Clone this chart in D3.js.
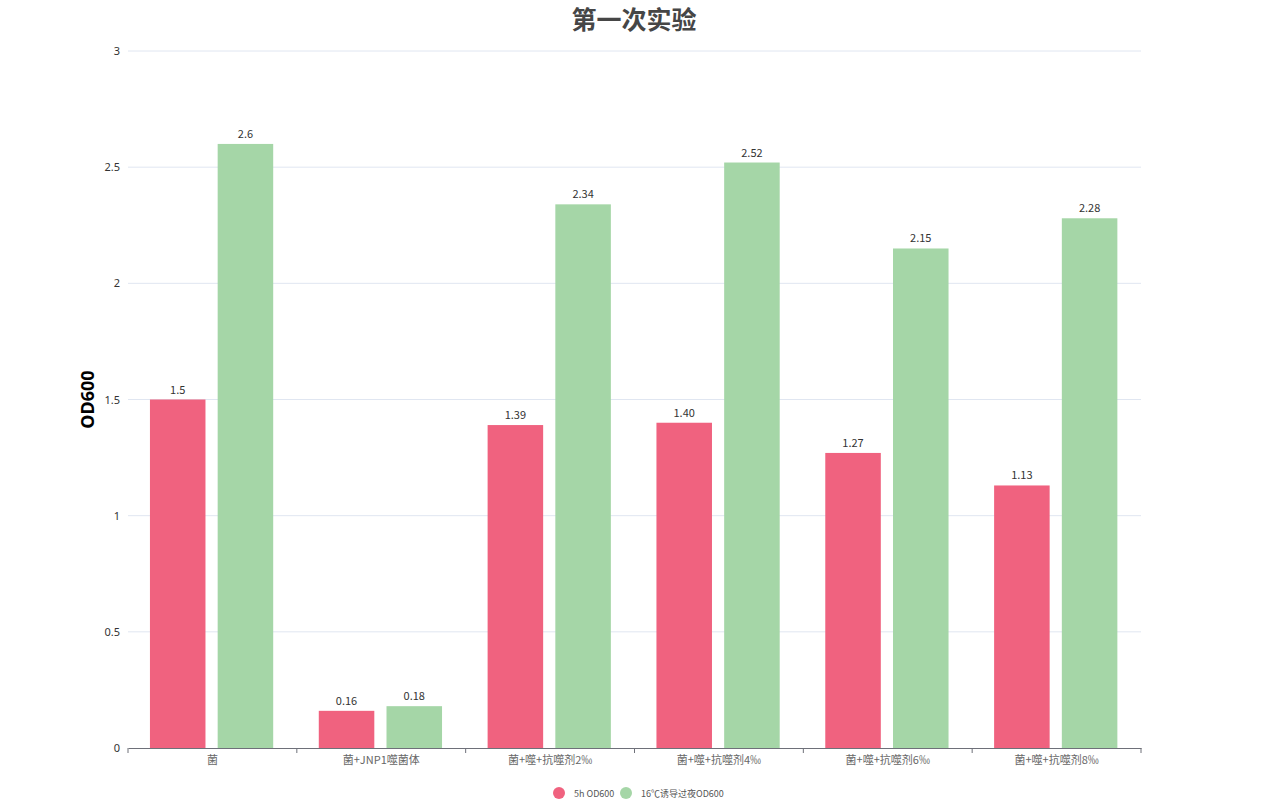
<!DOCTYPE html>
<html>
<head>
<meta charset="utf-8">
<script src="https://cdn.jsdelivr.net/npm/d3@7"></script>
<style>
  body { margin: 0; background: #fff; font-family: "Noto Sans CJK SC", "Noto Sans", sans-serif; }
</style>
</head>
<body>
<div id="chart"></div>
<script>
const categories = ['菌', '菌+JNP1噬菌体', '菌+噬+抗噬剂2‰', '菌+噬+抗噬剂4‰', '菌+噬+抗噬剂6‰', '菌+噬+抗噬剂8‰'];
const seriesNames = ['5h OD600', '16℃诱导过夜OD600'];
const values5h = [1.5, 0.16, 1.39, 1.40, 1.27, 1.13];
const valuesNight = [2.6, 0.18, 2.34, 2.52, 2.15, 2.28];
const labels5h = ['1.5', '0.16', '1.39', '1.40', '1.27', '1.13'];
const labelsNight = ['2.6', '0.18', '2.34', '2.52', '2.15', '2.28'];
const yTicks = [0, 0.5, 1, 1.5, 2, 2.5, 3];
const colors = ['#f0627f', '#a5d6a7'];

const width = 1268, height = 809;
const margin = { top: 51, left: 128, right: 127, bottom: 61 };

const svg = d3.select('#chart').append('svg')
    .attr('width', width)
    .attr('height', height);

const g = svg.append('g').attr('transform', 'translate(' + margin.left + ',' + margin.top + ')');
const w = width - margin.left - margin.right;
const h = height - margin.top - margin.bottom;

// scales
let x = d3.scaleBand().domain(categories).range([0, w]);
let x1 = d3.scaleBand().domain(seriesNames)
    .range([x.bandwidth() * 0.13, x.bandwidth() * 0.86]).paddingInner(0.18);
let y = d3.scaleLinear().domain([0, 3]).range([h, 0]);

// grid
g.append('g').selectAll('line')
    .data(yTicks.filter(d => d > 0))
    .enter().append('line')
        .attr('x1', 0).attr('x2', w)
        .attr('y1', d => y(d)).attr('y2', d => y(d))
        .attr('stroke', '#e0e6f1');

// y axis labels
let yAxis = d3.axisLeft(y).tickValues(yTicks).tickSize(0).tickPadding(8).tickFormat(d => d);
let yg = g.append('g').call(yAxis);
yg.select('.domain').remove();
yg.selectAll('text').attr('fill', '#333').style('font-size', '11px').style('font-family', 'Noto Sans, sans-serif');

// bars
const series = [values5h, valuesNight];
const labels = [labels5h, labelsNight];
series.forEach(function(vals, s) {
    g.selectAll('rect.s' + s)
        .data(vals)
        .enter().append('rect')
            .attr('class', 's' + s)
            .attr('x', (d, i) => x(categories[i]) + x1(seriesNames[s]))
            .attr('y', d => y(d))
            .attr('width', x1.bandwidth())
            .attr('height', d => h - y(d))
            .attr('fill', colors[s]);
    g.selectAll('text.l' + s)
        .data(vals)
        .enter().append('text')
            .attr('class', 'l' + s)
            .attr('x', (d, i) => x(categories[i]) + x1(seriesNames[s]) + x1.bandwidth() / 2)
            .attr('y', d => y(d) - 6)
            .attr('text-anchor', 'middle')
            .attr('fill', '#333')
            .style('font-size', '11px')
            .text((d, i) => labels[s][i]);
});

// x axis
let xAxis = d3.axisBottom(x).tickSize(0).tickPadding(8);
let xg = g.append('g').attr('transform', 'translate(0,' + h + ')').call(xAxis);
xg.select('.domain').attr('stroke', '#6e7079');
xg.selectAll('text').attr('fill', '#666').style('font-size', '11px').style('font-family', 'Noto Sans CJK SC, sans-serif');
xg.selectAll('line.sep')
    .data(d3.range(categories.length + 1))
    .enter().append('line')
        .attr('class', 'sep')
        .attr('x1', i => i * x.step()).attr('x2', i => i * x.step())
        .attr('y1', 0).attr('y2', 5)
        .attr('stroke', '#6e7079');

// title
svg.append('text')
    .attr('x', 634).attr('y', 29)
    .attr('text-anchor', 'middle')
    .attr('fill', '#464646')
    .style('font-size', '25px')
    .style('font-weight', 'bold')
    .text('第一次实验');

// y title
svg.append('text')
    .attr('transform', 'translate(94,' + (margin.top + h * 0.5) + ') rotate(-90)')
    .attr('text-anchor', 'middle')
    .attr('fill', '#000')
    .style('font-size', '18px')
    .style('font-weight', 'bold')
    .style('font-family', 'Noto Sans, sans-serif')
    .text('OD600');

// legend
const legendX = [559, 626];
seriesNames.forEach(function(name, s) {
    let lg = svg.append('g').attr('transform', 'translate(' + legendX[s] + ',793)');
    lg.append('circle').attr('r', 6).attr('fill', colors[s]);
    lg.append('text').attr('x', 15).attr('y', 3.5)
        .attr('fill', '#555').style('font-size', '9px')
        .text(name);
});
</script>
</body>
</html>
